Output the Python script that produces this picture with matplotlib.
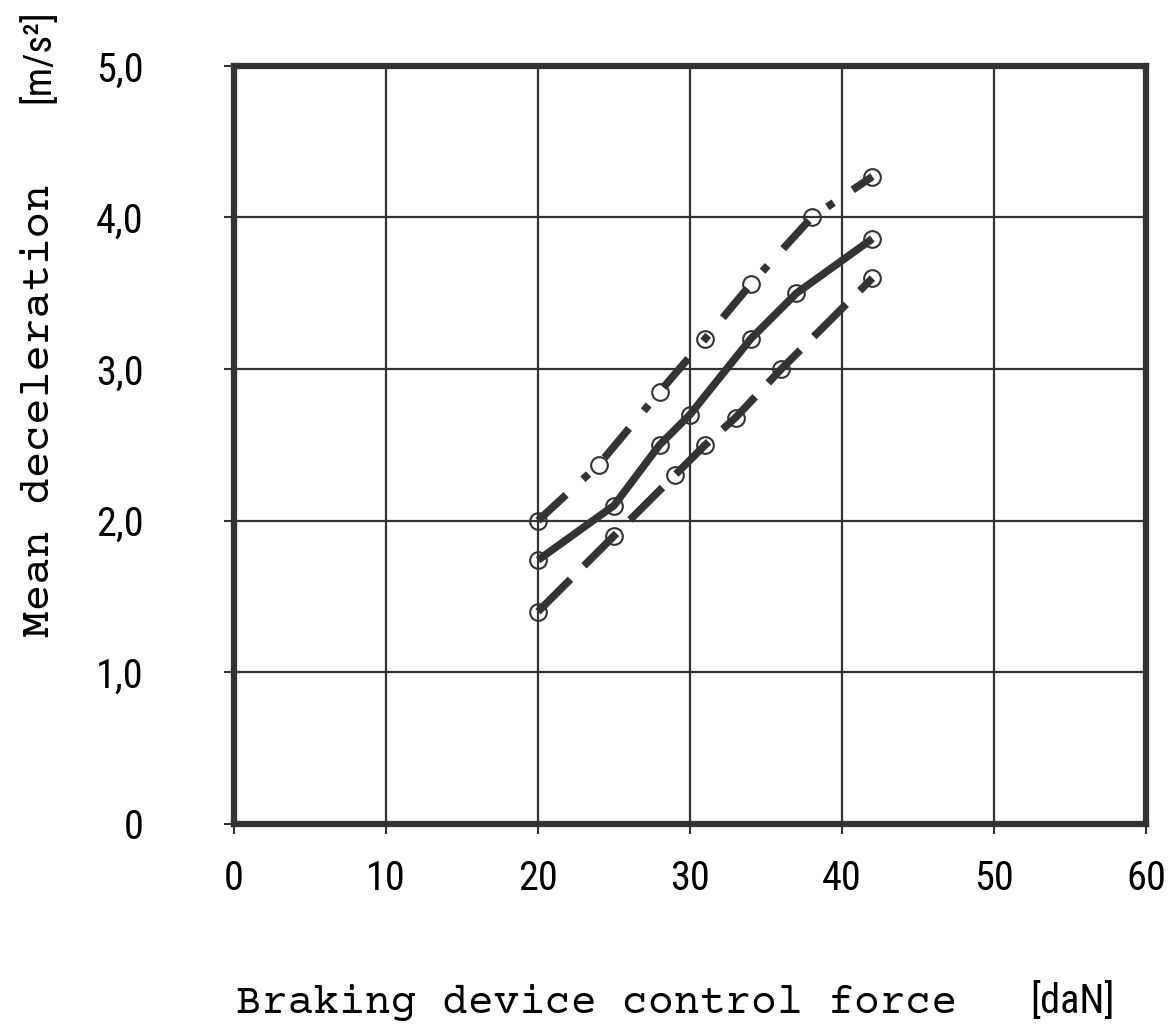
import matplotlib.pyplot as plt
from matplotlib import font_manager

x_top = [20, 24, 28, 31, 34, 38, 42]
y_top = [2.0, 2.37, 2.85, 3.2, 3.56, 4.0, 4.27]

x_mid = [20, 25, 28, 30, 34, 37, 42]
y_mid = [1.74, 2.1, 2.5, 2.7, 3.2, 3.5, 3.86]

x_low = [20, 25, 29, 31, 33, 36, 42]
y_low = [1.4, 1.9, 2.3, 2.5, 2.68, 3.0, 3.6]

x_ticks = [0, 10, 20, 30, 40, 50, 60]
y_ticks = [0, 1, 2, 3, 4, 5]
y_tick_labels = ["0", "1,0", "2,0", "3,0", "4,0", "5,0"]


def pick(options):
    names = {f.name for f in font_manager.fontManager.ttflist}
    for o in options:
        if o in names:
            return o
    return "DejaVu Sans"


narrow = pick(["Roboto Condensed", "Liberation Sans Narrow", "Archivo Narrow",
               "PT Sans Narrow", "Oswald"])
mono = pick(["Courier Prime", "Courier New", "Nimbus Mono PS", "Liberation Mono"])
ink = "#333333"

fig = plt.figure(figsize=(11.76, 10.26), dpi=100)
ax = fig.add_axes([0.199, 0.197, 0.7755, 0.7388])

line_kw = dict(color=ink, lw=5.5, marker="o", ms=12, mfc="none", mec=ink, mew=1.5,
               solid_capstyle="butt", dash_capstyle="butt")
ax.plot(x_top, y_top, linestyle=(0, (5, 3, 1, 3)), **line_kw)
ax.plot(x_mid, y_mid, linestyle="-", **line_kw)
ax.plot(x_low, y_low, linestyle=(0, (6, 2.5)), **line_kw)

ax.set_xlim(0, 60)
ax.set_ylim(0, 5)
ax.set_xticks(x_ticks)
ax.set_yticks(y_ticks)
ax.set_yticklabels(y_tick_labels)
ax.grid(True, color=ink, lw=1.6)
ax.set_axisbelow(True)

for s in ax.spines.values():
    s.set_linewidth(4.5)
    s.set_color(ink)

ax.tick_params(axis="both", direction="out", length=7, width=1.5, color=ink,
               labelsize=29, labelcolor="black")
ax.tick_params(axis="x", pad=18)
ax.tick_params(axis="y", pad=58)
for lab in ax.get_xticklabels() + ax.get_yticklabels():
    lab.set_fontfamily(narrow)

fig.text(0.201, 0.0127, "Braking device control force", fontsize=31,
         fontfamily=mono, ha="left", va="baseline")
fig.text(0.876, 0.0127, "[daN]", fontsize=29, fontfamily=narrow,
         ha="left", va="baseline")
fig.text(0.033, 0.6, "Mean deceleration", fontsize=32, fontfamily=mono,
         rotation=90, ha="center", va="center")
fig.text(0.033, 0.945, "[m/s²]", fontsize=28, fontfamily=narrow,
         rotation=90, ha="center", va="center")

fig.savefig("out.png", dpi=100)
